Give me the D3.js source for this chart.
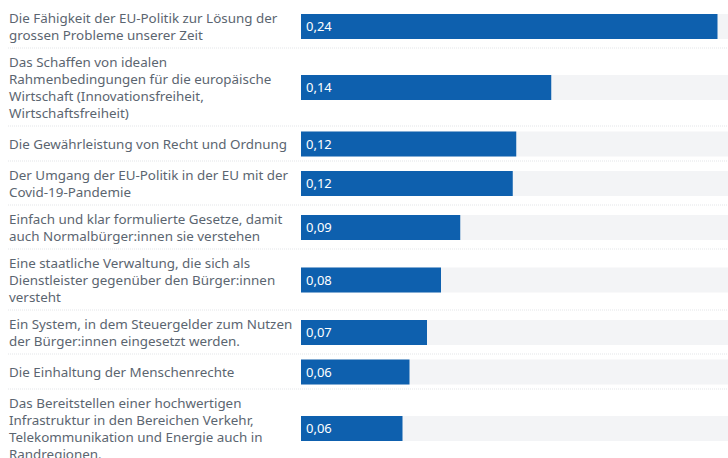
<!DOCTYPE html>
<html>
<head>
<meta charset="utf-8">
<script src="https://cdn.jsdelivr.net/npm/d3@7"></script>
<style>
  body { margin: 0; background: #fff; }
  svg { display: block; }
</style>
</head>
<body>
<div id="chart"></div>
<script>
// labels, already wrapped like in the original
const labels = [
  ["Die Fähigkeit der EU-Politik zur Lösung der", "grossen Probleme unserer Zeit"],
  ["Das Schaffen von idealen", "Rahmenbedingungen für die europäische", "Wirtschaft (Innovationsfreiheit,", "Wirtschaftsfreiheit)"],
  ["Die Gewährleistung von Recht und Ordnung"],
  ["Der Umgang der EU-Politik in der EU mit der", "Covid-19-Pandemie"],
  ["Einfach und klar formulierte Gesetze, damit", "auch Normalbürger:innen sie verstehen"],
  ["Eine staatliche Verwaltung, die sich als", "Dienstleister gegenüber den Bürger:innen", "versteht"],
  ["Ein System, in dem Steuergelder zum Nutzen", "der Bürger:innen eingesetzt werden."],
  ["Die Einhaltung der Menschenrechte"],
  ["Das Bereitstellen einer hochwertigen", "Infrastruktur in den Bereichen Verkehr,", "Telekommunikation und Energie auch in", "Randregionen."]
];
const values = [0.238, 0.143, 0.123, 0.121, 0.091, 0.080, 0.072, 0.062, 0.058];
const valueLabels = ["0,24", "0,14", "0,12", "0,12", "0,09", "0,08", "0,07", "0,06", "0,06"];
const maxValue = 0.244;

const width = 728, height = 458;
const lineH = 17, barH = 25, rowPad = 10, startY = 4.5;
const barLeft = 301;

const svg = d3.select("#chart").append("svg")
  .attr("width", width)
  .attr("height", height)
  .style("font-family", "'Noto Sans', sans-serif");

const x = d3.scaleLinear().domain([0, maxValue]).range([barLeft, width]);

// row heights depend on the number of label lines
let y0 = startY;
const rows = labels.map(function (lines, i) {
  const h = Math.max(lines.length * lineH, barH) + rowPad;
  const r = { lines: lines, value: values[i], label: valueLabels[i], y: y0, h: h };
  y0 += h;
  return r;
});

const row = svg.selectAll("g.row")
  .data(rows)
  .enter()
  .append("g")
  .attr("class", "row")
  .attr("transform", d => "translate(0," + d.y + ")");

// track
row.append("rect")
  .attr("x", x(0))
  .attr("y", d => d.h / 2 - barH / 2)
  .attr("width", x(maxValue * 1.1) - x(0))
  .attr("height", barH)
  .attr("fill", "#f3f4f6");

// bar
row.append("rect")
  .attr("x", x(0))
  .attr("y", d => d.h / 2 - barH / 2)
  .attr("width", d => x(d.value) - x(0))
  .attr("height", barH)
  .attr("fill", "#0e60ae");

row.append("text")
  .attr("x", x(0) + 5)
  .attr("y", d => d.h / 2 + 4.5)
  .attr("fill", "#fff")
  .attr("font-size", 13)
  .text(d => d.label);

// category label, centered on the bar
row.each(function (d) {
  const t = d3.select(this).append("text")
    .attr("fill", "#5b6570")
    .attr("font-size", 13.4);
  const blockTop = d.h / 2 - d.lines.length * lineH / 2;
  d.lines.forEach(function (line, k) {
    t.append("tspan")
      .attr("x", 9)
      .attr("y", blockTop + k * lineH + lineH / 2 + 4.6)
      .text(line);
  });
});

// dotted separators under each row
row.append("line")
  .attr("x1", 8)
  .attr("x2", width)
  .attr("y1", d => d.h - 0.5)
  .attr("y2", d => d.h - 0.5)
  .attr("stroke", "#e3e5e8")
  .attr("stroke-width", 1)
  .attr("stroke-dasharray", "1,1");
</script>
</body>
</html>
